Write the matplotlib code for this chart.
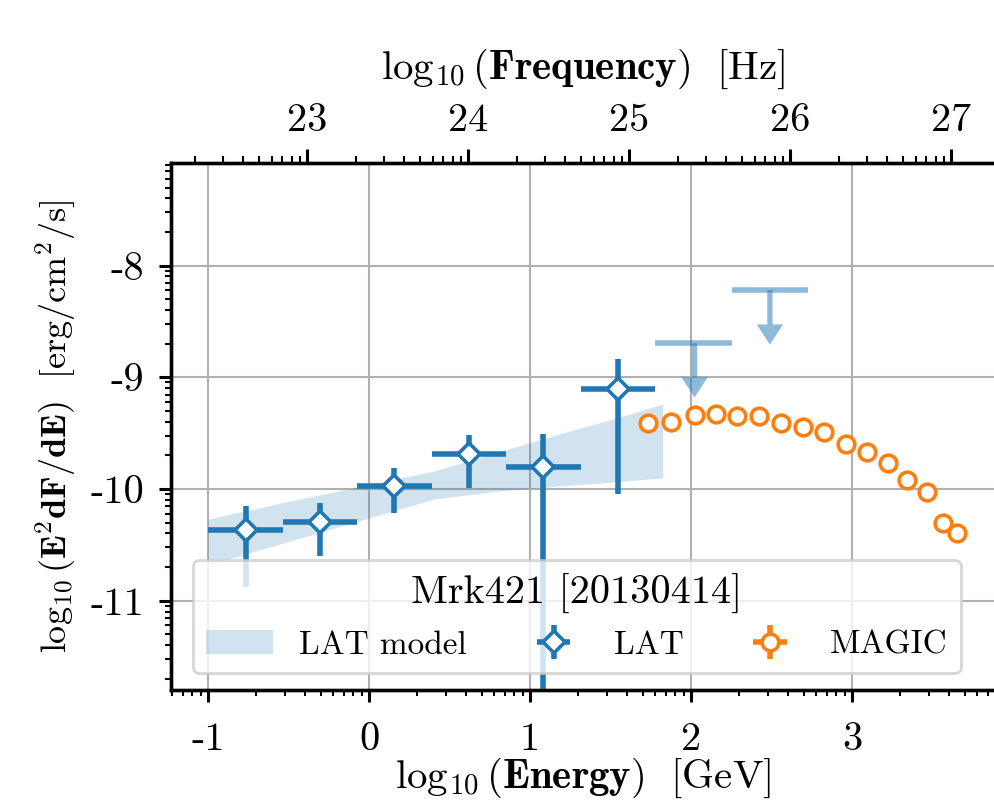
import numpy as np
import matplotlib
matplotlib.use('Agg')
import matplotlib.pyplot as plt
from matplotlib.ticker import FuncFormatter, NullFormatter

plt.rcParams['font.family'] = 'serif'
plt.rcParams['font.serif'] = ['cmr10']
plt.rcParams['mathtext.fontset'] = 'cm'
plt.rcParams['axes.unicode_minus'] = False
plt.rcParams['axes.formatter.use_mathtext'] = True

# LAT fermi points (log10 values)
lat_logE = [-0.766, -0.304, 0.157, 0.621, 1.083, 1.547]
lat_logE_lo = [-1.000, -0.535, -0.072, 0.392, 0.854, 1.317]
lat_logE_hi = [-0.535, -0.072, 0.392, 0.854, 1.317, 1.778]
lat_logF = [-10.367, -10.298, -9.970, -9.687, -9.803, -9.107]
lat_logF_lo = [-10.875, -10.600, -10.218, -9.988, -13.0, -10.047]
lat_logF_hi = [-10.152, -10.128, -9.815, -9.517, -9.508, -8.839]

# LAT upper limits
ul_logE = [2.022, 2.490]
ul_logE_lo = [1.778, 2.256]
ul_logE_hi = [2.256, 2.724]
ul_logF = [-8.695, -8.218]
ul_logF_tip = [-9.18, -8.707]

# LAT model butterfly
bt_logE = [-1.0, -0.5, 0.0, 0.4, 0.8, 1.2, 1.5, 1.824]
bt_up = [-10.27, -10.11, -9.96, -9.84, -9.67, -9.50, -9.38, -9.24]
bt_lo = [-10.68, -10.47, -10.26, -10.09, -10.02, -9.97, -9.94, -9.90]

# MAGIC points
magic_logE = [1.736, 1.875, 2.022, 2.153, 2.288, 2.424, 2.561, 2.693,
              2.829, 2.960, 3.092, 3.222, 3.344, 3.463, 3.568, 3.650]
magic_logF = [-9.410, -9.397, -9.335, -9.330, -9.345, -9.345, -9.405, -9.445,
              -9.490, -9.595, -9.672, -9.763, -9.920, -10.030, -10.300, -10.390]

GEV_TO_HZ = 2.418e23

def p(v):
    return 10.0 ** np.asarray(v, dtype=float)

fig = plt.figure(figsize=(9.94, 8.01), dpi=100)
ax = fig.add_axes([171/994, 1-690/801, 825/994, (690-163)/801])
ax.set_xscale('log')
ax.set_yscale('log')

# butterfly
ax.fill_between(p(bt_logE), p(bt_lo), p(bt_up), color='C0', alpha=0.2,
                lw=0, label='LAT model', zorder=2)

# LAT points
x = p(lat_logE)
y = p(lat_logF)
xerr = [x - p(lat_logE_lo), p(lat_logE_hi) - x]
yerr = [y - p(lat_logF_lo), p(lat_logF_hi) - y]
ax.errorbar(x, y, xerr=xerr, yerr=yerr, fmt='D', color='C0', mfc='white',
            mec='C0', ms=11, mew=2.6, elinewidth=4, capsize=0, label='LAT', zorder=4)

# upper limits
ux = p(ul_logE)
uy = p(ul_logF)
ax.errorbar(ux, uy, xerr=[ux - p(ul_logE_lo), p(ul_logE_hi) - ux], fmt='none',
            ecolor='C0', alpha=0.5, elinewidth=4, capsize=0, zorder=3)
for xi, yi, yt in zip(ux, uy, p(ul_logF_tip)):
    ax.annotate('', xy=(xi, yt), xytext=(xi, yi),
                arrowprops=dict(width=3.8, headwidth=19, headlength=14.5,
                                color='C0', alpha=0.5, lw=0),
                zorder=3)

# MAGIC
mx = p(magic_logE)
my = p(magic_logF)
ax.errorbar(mx, my, xerr=mx * 0.01, yerr=my * 0.01, fmt='o', color='C1', mfc='white',
            mec='C1', ms=12, mew=2.6, elinewidth=4, capsize=0, label='MAGIC', zorder=5)

x0 = (171 - 369) / 161.0
x1 = (996 - 369) / 161.0
ax.set_xlim(10 ** x0, 10 ** x1)
ax.set_ylim(10 ** (-10 - (690 - 489) / 111.7), 10 ** (-10 - (163 - 489) / 111.7))

logfmt = FuncFormatter(lambda v, pos: '%d' % int(round(np.log10(v))))
ax.xaxis.set_major_formatter(logfmt)
ax.yaxis.set_major_formatter(logfmt)
ax.xaxis.set_minor_formatter(NullFormatter())
ax.yaxis.set_minor_formatter(NullFormatter())

ax.grid(True, which='major', color='#b0b0b0', lw=1.5)
ax.set_axisbelow(True)
for s in ax.spines.values():
    s.set_linewidth(2.4)
ax.tick_params(which='major', length=8.5, width=2.2, labelsize=29)
ax.tick_params(axis='x', which='major', pad=15)
ax.tick_params(axis='y', which='major', pad=11)
ax.tick_params(which='minor', length=4.2, width=1.5)

ax.set_xlabel(r'$\log_{10}(\mathbf{Energy})\ \ [\mathrm{GeV}]$', fontsize=29.5, labelpad=-2)
ax.set_ylabel(r'$\log_{10}(\mathbf{E}^{\mathbf{2}}\mathbf{dF/dE})\ \ [\mathrm{erg/cm^2/s}]$',
              fontsize=26, labelpad=9)

# top frequency axis
ax2 = ax.twiny()
ax2.set_xscale('log')
ax2.set_xlim(10 ** x0 * GEV_TO_HZ, 10 ** x1 * GEV_TO_HZ)
ax2.xaxis.set_major_formatter(logfmt)
ax2.xaxis.set_minor_formatter(NullFormatter())
ax2.tick_params(which='major', length=10, width=2.2, labelsize=29, pad=7)
ax2.tick_params(which='minor', length=5, width=1.5)
for s in ax2.spines.values():
    s.set_linewidth(2.4)
ax2.set_xlabel(r'$\log_{10}(\mathbf{Frequency})\ \ [\mathrm{Hz}]$', fontsize=29.5, labelpad=18)

leg = ax.legend(loc='lower center', bbox_to_anchor=(0.492, 0.032), ncol=3,
                title='Mrk421 [20130414]', fontsize=24, title_fontsize=29,
                borderaxespad=0, columnspacing=1.6, framealpha=0.8)
leg.get_frame().set_linewidth(2)
leg.set_zorder(10)

fig.savefig('out.png', dpi=100)
